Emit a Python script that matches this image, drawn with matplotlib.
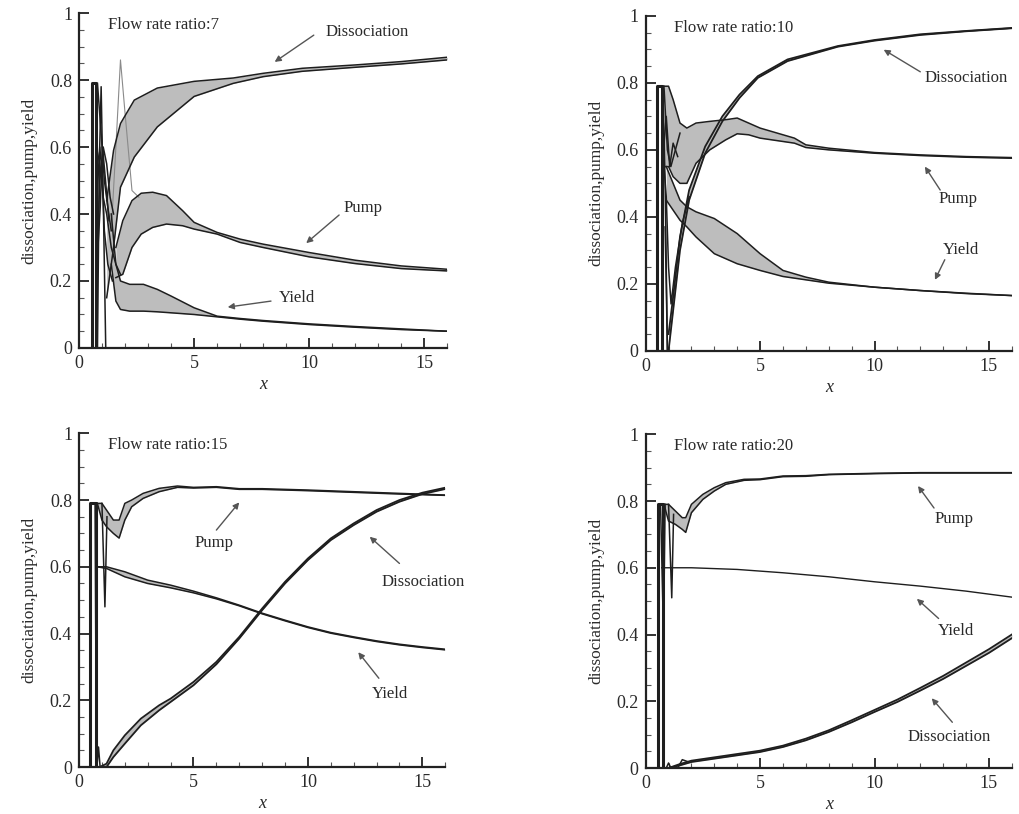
import matplotlib
matplotlib.use('Agg')
import matplotlib.pyplot as plt
from matplotlib.ticker import MultipleLocator

plt.rcParams['font.family'] = ['Liberation Serif', 'DejaVu Serif']

# ---- flow rate ratio 7 ----
spike7_x = [0.55, 0.55, 0.75, 0.75]
spike7_y = [0.0, 0.79, 0.79, 0.0]
osc7 = [([0.80, 0.88, 0.96, 1.05, 1.16], [0.0, 0.55, 0.78, 0.45, 0.0]),
        ([0.75, 0.90, 1.05, 1.20, 1.40, 1.60, 1.80], [0.60, 0.55, 0.45, 0.40, 0.30, 0.25, 0.22]),
        ([0.75, 0.90, 1.05, 1.20, 1.35, 1.50], [0.20, 0.50, 0.60, 0.55, 0.45, 0.40]),
        ([0.80, 0.95, 1.10, 1.25, 1.40], [0.79, 0.65, 0.50, 0.42, 0.35]),
        ([0.78, 0.90, 1.00, 1.10, 1.25, 1.45], [0.45, 0.60, 0.52, 0.35, 0.25, 0.20]),
        ([0.82, 0.92, 1.02, 1.15, 1.30], [0.30, 0.42, 0.60, 0.50, 0.38])]
x7_dis = [1.2, 1.5, 1.8, 2.4, 3.4, 5.0, 6.7, 8.0, 9.7, 12.0, 14.0, 16.0]
dis7_hi = [0.44, 0.59, 0.67, 0.74, 0.776, 0.796, 0.806, 0.82, 0.835, 0.845, 0.855, 0.868]
dis7_lo = [0.15, 0.30, 0.48, 0.57, 0.66, 0.751, 0.79, 0.81, 0.826, 0.838, 0.848, 0.86]
x7_pump = [1.6, 1.9, 2.3, 2.7, 3.2, 3.8, 4.5, 5.0, 6.0, 7.0, 8.0, 10.0, 12.0, 14.0, 16.0]
pump7_hi = [0.30, 0.38, 0.44, 0.462, 0.465, 0.455, 0.41, 0.375, 0.345, 0.325, 0.31, 0.285, 0.262, 0.245, 0.235]
pump7_lo = [0.21, 0.22, 0.30, 0.34, 0.36, 0.37, 0.365, 0.355, 0.34, 0.315, 0.30, 0.272, 0.252, 0.237, 0.23]
pump7_peak_x = [1.4, 1.6, 1.8, 2.0, 2.3, 2.6]
pump7_peak_y = [0.35, 0.60, 0.86, 0.70, 0.47, 0.45]
x7_yld = [1.4, 1.6, 1.8, 2.2, 2.8, 3.4, 4.0, 5.0, 6.0, 7.0, 8.0, 10.0, 12.0, 14.0, 16.0]
yld7_hi = [0.40, 0.25, 0.20, 0.19, 0.19, 0.175, 0.155, 0.12, 0.095, 0.088, 0.082, 0.072, 0.064, 0.057, 0.05]
yld7_lo = [0.25, 0.14, 0.115, 0.11, 0.11, 0.108, 0.105, 0.10, 0.093, 0.086, 0.08, 0.07, 0.062, 0.055, 0.05]

# ---- flow rate ratio 10 ----
spike10_x = [0.5, 0.5, 0.72, 0.72]
spike10_y = [0.0, 0.79, 0.79, 0.0]
osc10 = [([0.75, 0.85, 0.95, 1.05], [0.79, 0.50, 0.0, 0.0]),
         ([0.80, 0.90, 1.00, 1.11, 1.30, 1.60, 1.90], [0.55, 0.46, 0.25, 0.14, 0.25, 0.38, 0.46]),
         ([0.85, 0.90, 0.95], [0.37, 0.20, 0.0]),
         ([0.80, 0.95, 1.10, 1.30, 1.50], [0.79, 0.60, 0.55, 0.60, 0.65]),
         ([0.78, 0.90, 1.05, 1.20, 1.40], [0.60, 0.70, 0.55, 0.62, 0.58])]
x10_dis = [1.0, 1.2, 1.5, 1.9, 2.6, 3.35, 4.1, 4.9, 6.2, 8.4, 10.0, 12.0, 14.0, 16.0]
dis10_hi = [0.05, 0.16, 0.34, 0.48, 0.61, 0.70, 0.765, 0.82, 0.87, 0.91, 0.928, 0.945, 0.955, 0.964]
dis10_lo = [0.0, 0.12, 0.30, 0.45, 0.59, 0.685, 0.755, 0.815, 0.865, 0.908, 0.926, 0.943, 0.954, 0.963]
x10_pump = [0.8, 1.0, 1.2, 1.5, 1.8, 2.2, 2.8, 3.5, 4.0, 4.5, 5.0, 5.5, 6.0, 6.5, 7.0, 8.0, 10.0, 12.0, 14.0, 16.0]
pump10_hi = [0.79, 0.79, 0.75, 0.68, 0.665, 0.68, 0.685, 0.69, 0.695, 0.68, 0.665, 0.655, 0.645, 0.635, 0.615, 0.605, 0.592, 0.585, 0.58, 0.577]
pump10_lo = [0.55, 0.55, 0.52, 0.50, 0.50, 0.56, 0.60, 0.63, 0.648, 0.645, 0.635, 0.63, 0.625, 0.62, 0.607, 0.60, 0.59, 0.583, 0.578, 0.575]
x10_yld = [0.9, 1.2, 1.5, 1.8, 2.2, 3.0, 4.0, 5.0, 6.0, 7.0, 8.0, 10.0, 12.0, 14.0, 16.0]
yld10_hi = [0.55, 0.50, 0.45, 0.43, 0.415, 0.395, 0.35, 0.29, 0.24, 0.22, 0.205, 0.19, 0.18, 0.172, 0.165]
yld10_lo = [0.45, 0.42, 0.39, 0.37, 0.34, 0.29, 0.26, 0.24, 0.222, 0.212, 0.202, 0.19, 0.18, 0.171, 0.165]

# ---- flow rate ratio 15 ----
spike15_x = [0.5, 0.5, 0.75, 0.75]
spike15_y = [0.0, 0.79, 0.79, 0.0]
osc15 = [([0.70, 0.73, 0.78], [0.79, 0.38, 0.79]),
         ([1.00, 1.13, 1.22], [0.79, 0.48, 0.75]),
         ([0.78, 0.85, 0.92], [0.0, 0.06, 0.0])]
x15_pump = [0.7, 0.8, 1.0, 1.2, 1.5, 1.75, 2.0, 2.3, 2.8, 3.5, 4.3, 5.0, 6.0, 7.0, 8.0, 10.0, 12.0, 14.0, 16.0]
pump15_hi = [0.79, 0.79, 0.79, 0.77, 0.74, 0.74, 0.79, 0.80, 0.82, 0.835, 0.842, 0.838, 0.84, 0.834, 0.834, 0.83, 0.825, 0.82, 0.815]
pump15_lo = [0.79, 0.79, 0.74, 0.72, 0.70, 0.686, 0.74, 0.78, 0.805, 0.825, 0.838, 0.836, 0.838, 0.832, 0.832, 0.828, 0.823, 0.818, 0.814]
x15_yld = [0.8, 1.2, 2.0, 3.0, 4.0, 5.0, 6.0, 7.0, 8.0, 9.0, 10.0, 11.0, 12.0, 13.0, 14.0, 15.0, 16.0]
yld15_hi = [0.60, 0.60, 0.585, 0.56, 0.545, 0.527, 0.507, 0.485, 0.461, 0.44, 0.42, 0.403, 0.39, 0.378, 0.368, 0.36, 0.353]
yld15_lo = [0.60, 0.595, 0.57, 0.55, 0.537, 0.522, 0.504, 0.483, 0.459, 0.438, 0.418, 0.401, 0.388, 0.376, 0.366, 0.358, 0.351]
x15_dis = [0.9, 1.2, 1.5, 2.0, 2.7, 3.5, 4.0, 5.0, 6.0, 7.0, 8.0, 9.0, 10.0, 11.0, 12.0, 13.0, 14.0, 15.0, 16.0]
dis15_hi = [0.0, 0.01, 0.05, 0.095, 0.145, 0.185, 0.205, 0.255, 0.315, 0.39, 0.475, 0.555, 0.625, 0.685, 0.73, 0.77, 0.80, 0.822, 0.837]
dis15_lo = [0.0, 0.0, 0.03, 0.07, 0.125, 0.17, 0.195, 0.245, 0.308, 0.385, 0.47, 0.55, 0.62, 0.68, 0.725, 0.765, 0.795, 0.818, 0.833]

# ---- flow rate ratio 20 ----
spike20_x = [0.53, 0.53, 0.74, 0.74]
spike20_y = [0.0, 0.79, 0.79, 0.0]
osc20 = [([0.65, 0.78, 0.85], [0.79, 0.40, 0.79]),
         ([1.00, 1.14, 1.22], [0.79, 0.51, 0.76]),
         ([0.90, 1.00, 1.10], [0.0, 0.015, 0.0]),
         ([1.40, 1.60, 1.80], [0.0, 0.025, 0.02])]
x20_pump = [0.7, 0.8, 1.0, 1.3, 1.6, 1.75, 2.0, 2.5, 3.0, 3.5, 4.3, 5.0, 6.0, 7.0, 8.0, 10.0, 12.0, 16.0]
pump20_hi = [0.79, 0.79, 0.79, 0.77, 0.75, 0.75, 0.79, 0.82, 0.84, 0.855, 0.865, 0.866, 0.875, 0.876, 0.88, 0.883, 0.885, 0.885]
pump20_lo = [0.79, 0.79, 0.74, 0.73, 0.715, 0.706, 0.765, 0.805, 0.83, 0.85, 0.862, 0.864, 0.873, 0.874, 0.879, 0.882, 0.884, 0.884]
x20_yld = [0.7, 2.0, 4.0, 6.0, 8.0, 10.0, 12.0, 14.0, 16.0]
yld20 = [0.60, 0.60, 0.595, 0.585, 0.573, 0.558, 0.545, 0.53, 0.512]
x20_dis = [1.0, 1.5, 2.0, 3.0, 4.0, 5.0, 6.0, 7.0, 8.0, 9.0, 10.0, 11.0, 12.0, 13.0, 14.0, 15.0, 16.0]
dis20_hi = [0.0, 0.012, 0.022, 0.032, 0.042, 0.052, 0.067, 0.088, 0.113, 0.143, 0.174, 0.205, 0.24, 0.276, 0.316, 0.356, 0.40]
dis20_lo = [0.0, 0.008, 0.018, 0.028, 0.038, 0.048, 0.063, 0.083, 0.108, 0.137, 0.168, 0.198, 0.232, 0.267, 0.306, 0.345, 0.389]

yticks = [0, 0.2, 0.4, 0.6, 0.8, 1.0]
ytick_labels = ['0', '0.2', '0.4', '0.6', '0.8', '1']
xticks = [0, 5, 10, 15]

DARK = '#1e1e1e'
BAND = '#bdbdbd'
TXT = '#2a2a2a'


def band(ax, x, lo, hi, lw=1.1):
    ax.fill_between(x, lo, hi, color=BAND, lw=0)
    ax.plot(x, lo, color=DARK, lw=lw)
    ax.plot(x, hi, color=DARK, lw=lw)


def base(ax, title):
    ax.set_xlim(0, 16)
    ax.set_ylim(0, 1)
    for s in ['top', 'right']:
        ax.spines[s].set_visible(False)
    for s in ['left', 'bottom']:
        ax.spines[s].set_linewidth(1.6)
        ax.spines[s].set_color('#222222')
    ax.set_xticks(xticks)
    ax.set_yticks(yticks)
    ax.set_yticklabels(ytick_labels)
    ax.xaxis.set_minor_locator(MultipleLocator(1))
    ax.yaxis.set_minor_locator(MultipleLocator(0.05))
    ax.tick_params(which='major', direction='in', length=7, width=1.3,
                   labelsize=13, colors='#222222', labelcolor=TXT, pad=5)
    ax.tick_params(which='minor', direction='in', length=3.5, width=0.8, colors='#555555')
    ax.set_xlabel('x', fontsize=13, style='italic', color=TXT, labelpad=3)
    ax.set_ylabel('dissociation,pump,yield', fontsize=12.5, color=TXT, labelpad=9)
    ax.text(1.25, 0.965, title, fontsize=12, color=TXT, va='center')


def note(ax, label, tx, ty, tail, tip, ha='left'):
    ax.text(tx, ty, label, fontsize=12, color=TXT, va='center', ha=ha, clip_on=False)
    ax.annotate('', xy=tip, xytext=tail,
                arrowprops=dict(arrowstyle='-|>', color='#555555', lw=1.0,
                                mutation_scale=9, shrinkA=0, shrinkB=0))


def early(ax, sx, sy, osc):
    ax.plot(sx, sy, color=DARK, lw=2.2)
    for ox, oy in osc:
        ax.plot(ox, oy, color=DARK, lw=1.1)


fig = plt.figure(figsize=(10.2, 8.14), dpi=100)
ax1 = fig.add_axes([0.0775, 0.5725, 0.361, 0.4115])
ax2 = fig.add_axes([0.633, 0.569, 0.359, 0.4115])
ax3 = fig.add_axes([0.0775, 0.0577, 0.359, 0.41])
ax4 = fig.add_axes([0.633, 0.0565, 0.359, 0.41])

# panel 1
base(ax1, 'Flow rate ratio:7')
ax1.plot(pump7_peak_x, pump7_peak_y, color='#8a8a8a', lw=0.8)
band(ax1, x7_pump, pump7_lo, pump7_hi)
band(ax1, x7_yld, yld7_lo, yld7_hi)
band(ax1, x7_dis, dis7_lo, dis7_hi)
early(ax1, spike7_x, spike7_y, osc7)
note(ax1, 'Dissociation', 10.7, 0.942, (10.2, 0.934), (8.5, 0.854))
note(ax1, 'Pump', 11.5, 0.418, (11.3, 0.397), (9.87, 0.313))
note(ax1, 'Yield', 8.7, 0.149, (8.34, 0.14), (6.46, 0.122))

# panel 2
base(ax2, 'Flow rate ratio:10')
band(ax2, x10_pump, pump10_lo, pump10_hi)
band(ax2, x10_yld, yld10_lo, yld10_hi)
band(ax2, x10_dis, dis10_lo, dis10_hi, lw=1.3)
early(ax2, spike10_x, spike10_y, osc10)
note(ax2, 'Dissociation', 12.2, 0.815, (12.0, 0.833), (10.4, 0.899))
note(ax2, 'Pump', 12.8, 0.454, (12.87, 0.48), (12.2, 0.55))
note(ax2, 'Yield', 13.0, 0.30, (13.07, 0.272), (12.64, 0.212))

# panel 3
base(ax3, 'Flow rate ratio:15')
band(ax3, x15_pump, pump15_lo, pump15_hi)
band(ax3, x15_yld, yld15_lo, yld15_hi)
band(ax3, x15_dis, dis15_lo, dis15_hi, lw=1.3)
early(ax3, spike15_x, spike15_y, osc15)
note(ax3, 'Pump', 5.06, 0.67, (6.0, 0.71), (7.0, 0.793))
note(ax3, 'Dissociation', 13.2, 0.554, (14.0, 0.61), (12.7, 0.69))
note(ax3, 'Yield', 12.8, 0.22, (13.1, 0.266), (12.2, 0.344))

# panel 4
base(ax4, 'Flow rate ratio:20')
band(ax4, x20_pump, pump20_lo, pump20_hi)
ax4.plot(x20_yld, yld20, color=DARK, lw=1.0)
band(ax4, x20_dis, dis20_lo, dis20_hi, lw=1.3)
early(ax4, spike20_x, spike20_y, osc20)
note(ax4, 'Pump', 12.6, 0.746, (12.6, 0.779), (11.9, 0.845))
note(ax4, 'Yield', 12.75, 0.41, (12.8, 0.448), (11.85, 0.507))
note(ax4, 'Dissociation', 11.45, 0.093, (13.4, 0.137), (12.5, 0.209))

fig.savefig('out.png', dpi=100)
